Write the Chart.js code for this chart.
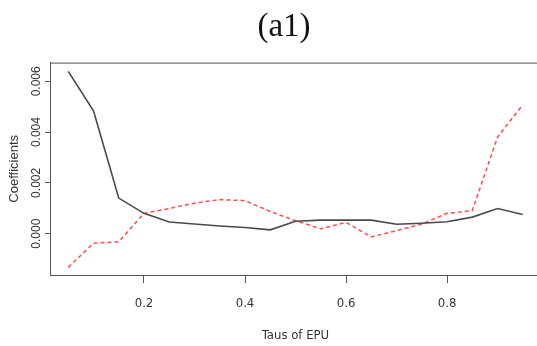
<!DOCTYPE html>
<html>
<head>
<meta charset="utf-8">
<script src="https://cdn.jsdelivr.net/npm/chart.js@4/dist/chart.umd.min.js"></script>
<style>
  html, body { margin: 0; padding: 0; background: #fff; overflow: hidden; }
  #wrap { width: 537px; height: 346px; overflow: hidden; }
  #box { width: 568px; height: 346px; }
</style>
</head>
<body>
<div id="wrap"><div id="box"><canvas id="chart"></canvas></div></div>
<script>
// quantiles of EPU
var taus = [0.05, 0.10, 0.15, 0.20, 0.25, 0.30, 0.35, 0.40, 0.45, 0.50,
            0.55, 0.60, 0.65, 0.70, 0.75, 0.80, 0.85, 0.90, 0.95];
// solid dark line
var coefSolid = [0.00639, 0.00484, 0.00140, 0.00080, 0.00046, 0.00038, 0.00030, 0.00024, 0.00015, 0.00049,
                 0.00053, 0.00053, 0.00053, 0.00037, 0.00041, 0.00047, 0.00065, 0.00099, 0.00075];
// red dashed line
var coefDashed = [-0.00133, -0.00038, -0.00032, 0.00080, 0.00099, 0.00120, 0.00134, 0.00130, 0.00087, 0.00051,
                  0.00019, 0.00044, -0.00013, 0.00012, 0.00038, 0.00080, 0.00091, 0.00380, 0.00508];
var xTicks = [0.2, 0.4, 0.6, 0.8];
var yTicks = [0.000, 0.002, 0.004, 0.006];

function pts(vals) {
  return taus.map(function (t, i) { return {x: t, y: vals[i]}; });
}

var frame = {
  id: 'frame',
  afterDraw: function (chart) {
    var a = chart.chartArea, ctx = chart.ctx;
    ctx.save();
    ctx.strokeStyle = '#555';
    ctx.lineWidth = 1;
    ctx.strokeRect(a.left + 0.5, a.top + 0.5, a.right - a.left, a.bottom - a.top);
    ctx.restore();
  }
};

var narrow = "'Liberation Sans Narrow', 'DejaVu Sans Condensed', 'Liberation Sans', sans-serif";

new Chart(document.getElementById('chart'), {
  type: 'line',
  data: {
    datasets: [
      {
        data: pts(coefSolid),
        borderColor: '#4a4a4a',
        borderWidth: 1.6,
        pointRadius: 0,
        tension: 0
      },
      {
        data: pts(coefDashed),
        borderColor: '#ff4d4d',
        borderWidth: 1.5,
        borderDash: [4, 3],
        pointRadius: 0,
        tension: 0
      }
    ]
  },
  options: {
    responsive: true,
    maintainAspectRatio: false,
    animation: false,
    // left padding moves the title centre to x~284, y axis then fills the rest up to x=50
    layout: { padding: { left: 27, right: 27, top: 0, bottom: 0 } },
    plugins: {
      legend: { display: false },
      tooltip: { enabled: false },
      title: {
        display: true,
        text: '(a1)',
        color: '#111',
        font: { family: "'Liberation Serif', 'Times New Roman', serif", size: 33, weight: 'normal' },
        padding: { top: 8, bottom: 15 }
      }
    },
    scales: {
      x: {
        type: 'linear',
        min: 0.0139,
        max: 0.986,
        afterFit: function (s) { s.height = 71; },
        afterBuildTicks: function (s) { s.ticks = xTicks.map(function (v) { return {value: v}; }); },
        grid: { drawOnChartArea: false, tickLength: 8, color: '#555' },
        border: { color: '#555' },
        ticks: {
          padding: 13,
          color: '#333',
          font: { family: narrow, size: 13 },
          callback: function (v) { return v.toFixed(1); }
        },
        title: {
          display: true,
          text: 'Taus of EPU',
          color: '#333',
          font: { family: narrow, size: 13 },
          padding: { top: 0, bottom: 3 }
        }
      },
      y: {
        min: -0.00163,
        max: 0.006738,
        afterFit: function (s) { s.width = 23; },
        afterBuildTicks: function (s) { s.ticks = yTicks.map(function (v) { return {value: v}; }); },
        grid: { drawOnChartArea: false, tickLength: 5, color: '#555' },
        border: { color: '#555' },
        ticks: {
          minRotation: 90,
          maxRotation: 90,
          crossAlign: 'center',
          padding: -7,
          color: '#333',
          font: { family: "'Liberation Sans', Arial, sans-serif", size: 12 },
          callback: function (v) { return v.toFixed(3); }
        },
        title: {
          display: true,
          text: 'Coefficients',
          color: '#333',
          font: { family: "'Liberation Sans', Arial, sans-serif", size: 13 },
          padding: { top: -20, bottom: 0 }
        }
      }
    }
  },
  plugins: [frame]
});
</script>
</body>
</html>
